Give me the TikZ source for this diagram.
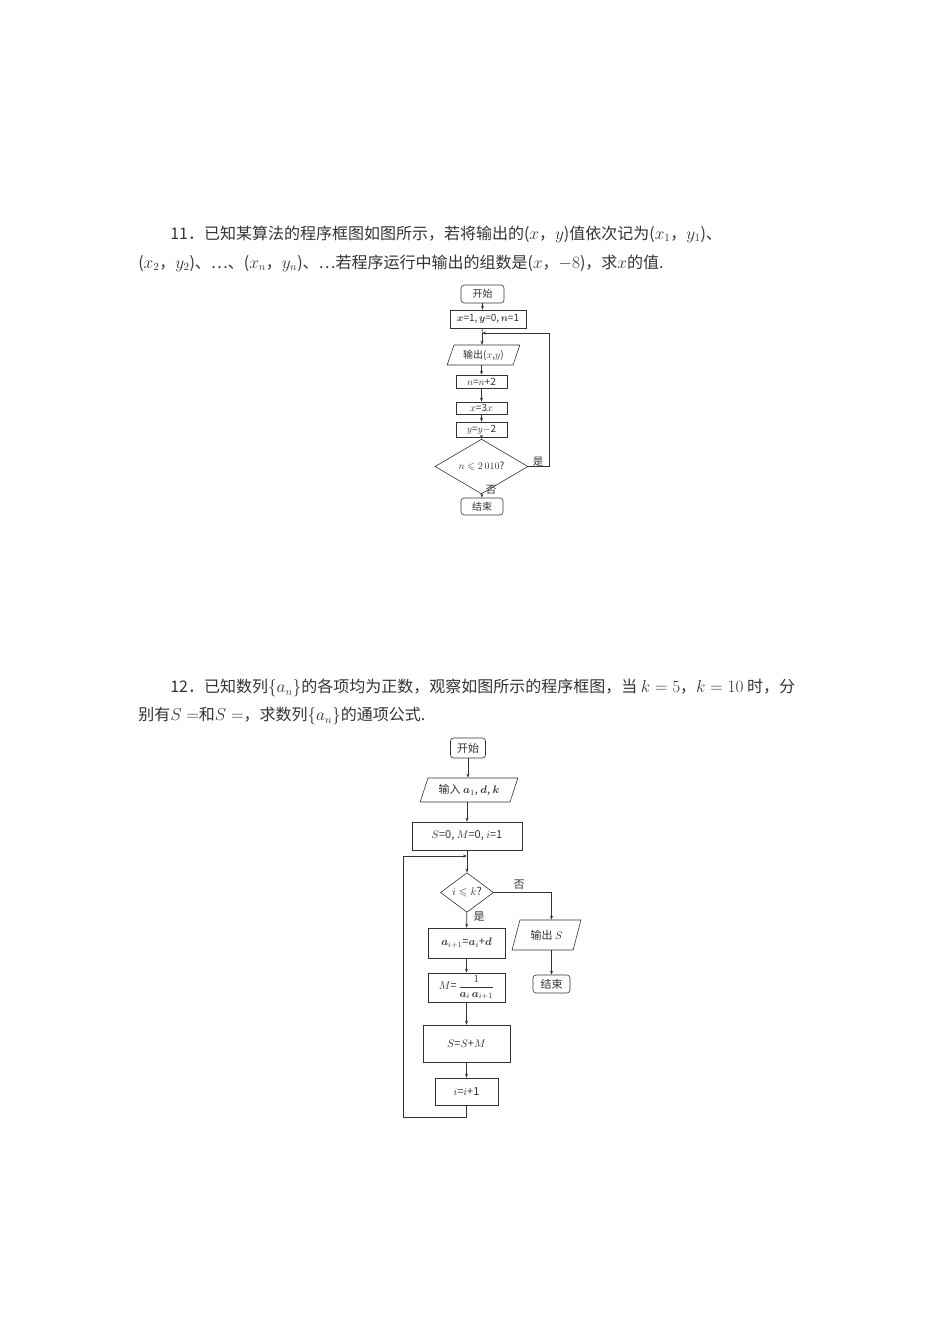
\documentclass[tikz,border=0pt]{standalone}
\usepackage{amsmath,amssymb,bm}
\usepackage{fontspec}
\setmainfont{Noto Sans CJK SC}
\usetikzlibrary{shapes.geometric,arrows.meta}
\begin{document}
\begin{tikzpicture}[x=1pt,y=-1pt,
  every node/.style={inner sep=0pt,font=\fontsize{10}{12}\selectfont},
  term/.style={draw,rounded corners=3pt},
  io/.style={draw,trapezium,trapezium left angle=66,trapezium right angle=114,trapezium stretches=true},
  dec/.style={draw,diamond},
  arr/.style={-{Stealth[length=4pt,width=3pt]}},
  txt/.style={anchor=west,font=\fontsize{16}{18}\selectfont},
  lbl/.style={font=\fontsize{10.5}{12}\selectfont},
  big/.style={font=\fontsize{11}{13}\selectfont},
  line width=0.6pt,color=black!80]
\useasboundingbox (0,0) rectangle (950,1344);
% text
\node[txt] (t1) at (170,234) {11．已知某算法的程序框图如图所示，若将输出的($x$，$y$)值依次记为($x_1$，$y_1$)、};
\node[txt] (t2) at (138,263) {($x_2$，$y_2$)、…、($x_n$，$y_n$)、…若程序运行中输出的组数是($x$，$-8$)，求$x$的值.};
\node[txt] (t3) at (170,688) {12．已知数列$\{a_n\}$的各项均为正数，观察如图所示的程序框图，当 $k=5$，$k=10$ 时，分};
\node[txt] (t4) at (138,716) {别有$S=$和$S=$，求数列$\{a_n\}$的通项公式.};
% chart 1
\node[term,minimum width=43,minimum height=18] (s1) at (482.5,294) {开始};
\node[draw,minimum width=76,minimum height=18] (i1) at (488,319) {$\bm{x}$=1,$\,\bm{y}$=0,$\,\bm{n}$=1};
\node[io,minimum width=73,minimum height=20] (o1) at (483.5,355) {输出($x$,$y$)};
\node[draw,minimum width=51,minimum height=13] (b1) at (481.5,381.5) {$n$=$n$+2};
\node[draw,minimum width=51,minimum height=12] (b2) at (481.5,408) {$x$=3$x$};
\node[draw,minimum width=51,minimum height=15] (b3) at (481.5,429.5) {$y$=$y$$-$2};
\node[dec,minimum width=93,minimum height=33] (d1) at (481.5,466.5) {$n\leqslant 2\,010$?};
\node[term,minimum width=42,minimum height=17] (e1) at (482,506.5) {结束};
\coordinate (j1) at (482,333);
\draw[arr] (s1) -- (s1|-i1.north);
\draw (i1.south-|s1) -- (j1);
\draw[arr] (j1) -- (j1|-o1.north);
\draw[arr] (o1.south-|b1) -- (b1);
\draw[arr] (b1) -- (b2);
\draw[arr] (b2) -- (b3);
\draw[arr] (b3) -- (d1);
\draw[arr] (d1) -- (e1);
\draw[arr] (d1.east) -- ++(21,0) |- (j1);
\node[lbl] (y1) at (538,462) {是};
\node[lbl] (n1) at (491,490) {否};
% chart 2
\node[term,big,minimum width=35,minimum height=20] (s2) at (468,748) {开始};
\node[io,big,trapezium left angle=63,trapezium right angle=117,minimum width=98,minimum height=24] (in2) at (469,790) {输入 $\bm{a}_1$, $\bm{d}$, $\bm{k}$};
\node[draw,big,minimum width=110,minimum height=28] (i2) at (467,836) {$S$=0, $M$=0, $i$=1};
\node[dec,big,minimum width=53,minimum height=39] (d2) at (467,892.5) {$i\leqslant k$?};
\node[draw,big,minimum width=77,minimum height=30] (a2) at (466.5,943) {$\bm{a}_{i+1}$=$\bm{a}_i$+$\bm{d}$};
\node[draw,big,minimum width=77,minimum height=29] (m2) at (466.5,987.5) {$M$=\,$\dfrac{1}{\bm{a}_i\,\bm{a}_{i+1}}$};
\node[draw,big,minimum width=87,minimum height=37] (ss2) at (466.5,1043.5) {$S$=$S$+$M$};
\node[draw,big,minimum width=63,minimum height=27] (ii2) at (466.5,1091.5) {$i$=$i$+1};
\node[io,big,trapezium left angle=65,trapezium right angle=115,minimum width=69,minimum height=30] (o2) at (546.5,935) {输出 $S$};
\node[term,big,minimum width=37,minimum height=18] (e2) at (551.5,984) {结束};
\coordinate (j2) at (467,856);
\draw[arr] (s2) -- (s2|-in2.north);
\draw[arr] (in2.south-|i2) -- (i2);
\draw (i2) -- (j2);
\draw[arr] (j2) -- (d2);
\draw[arr] (d2) -- (a2);
\draw[arr] (a2) -- (m2);
\draw[arr] (m2) -- (ss2);
\draw[arr] (ss2) -- (ii2);
\draw[arr] (ii2.south) -- ++(0,12) -| (403,856) -- (j2);
\draw[arr] (d2.east) -| (o2.north-|e2);
\draw[arr] (o2.south-|e2) -- (e2);
\node[lbl,big] (n2) at (519,885) {否};
\node[lbl,big] (y2) at (479,917) {是};
\end{tikzpicture}
\end{document}
